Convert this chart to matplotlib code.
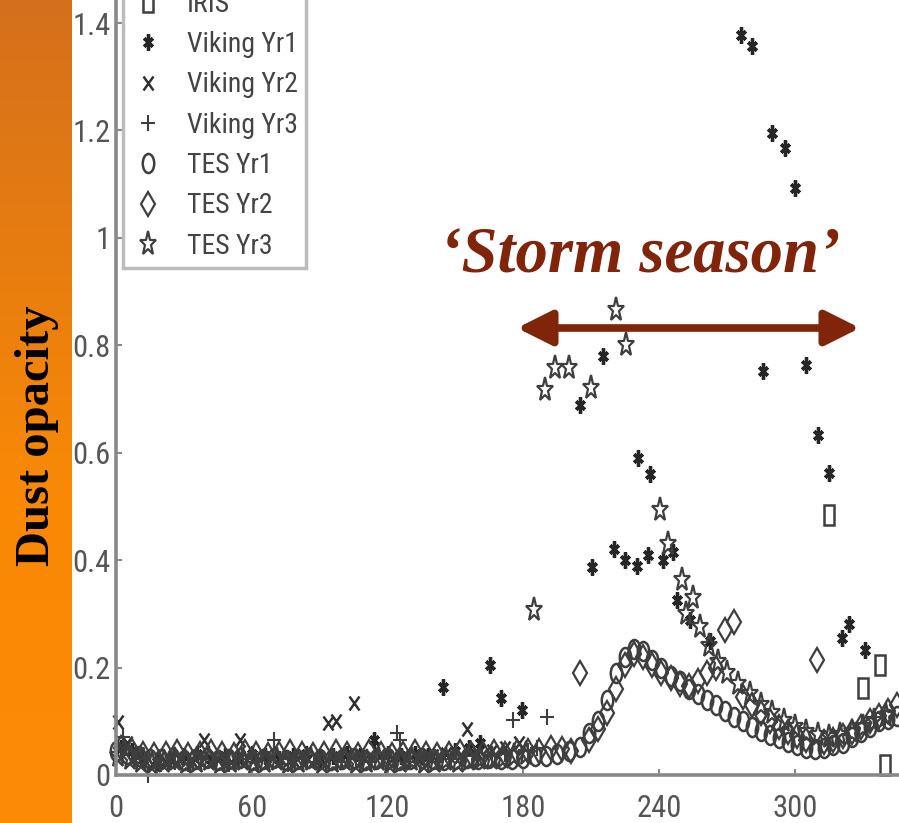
import numpy as np
import matplotlib
matplotlib.use("Agg")
import matplotlib.pyplot as plt
from matplotlib import font_manager
from matplotlib.font_manager import FontProperties
from matplotlib.markers import MarkerStyle
from matplotlib.transforms import Affine2D
from matplotlib.patches import FancyArrowPatch
from matplotlib.colors import LinearSegmentedColormap

# seasonal dust opacity vs. solar longitude (Ls)
iris_ls = [315, 330, 337.5, 339.7]
iris_tau = [0.484, 0.162, 0.205, 0.019]

vk1_ls = [2, 7, 12, 18, 24, 30, 36, 42, 48, 54, 60, 66, 72, 78, 84, 90, 96, 102, 108, 114,
          120, 126, 132, 138, 144.7, 150, 156, 161,
          165.4, 170, 179.5, 205, 210.5, 215, 220, 225, 230, 230.5, 235, 236, 241.5, 246,
          248, 253.6, 262.5, 276, 281, 285.8, 289.8, 295.5, 300, 304.8, 310, 315, 320.7, 324, 331]
vk1_tau = [0.05, 0.045, 0.03, 0.025, 0.03, 0.035, 0.04, 0.03, 0.035, 0.03, 0.04, 0.035, 0.03, 0.035, 0.04, 0.03, 0.035, 0.04, 0.035, 0.065,
           0.04, 0.035, 0.04, 0.035, 0.164, 0.045, 0.05, 0.06,
           0.205, 0.143, 0.121, 0.688, 0.387, 0.78, 0.42, 0.40, 0.39, 0.59, 0.41, 0.56, 0.40, 0.415,
           0.325, 0.288, 0.25, 1.377, 1.358, 0.753, 1.196, 1.167, 1.092, 0.763, 0.633, 0.562, 0.255, 0.282, 0.233]

vk2_ls = [1, 5, 10, 16, 22, 28, 34, 38.8, 45, 51, 55, 61, 67, 73, 79, 85, 89, 93.5, 97, 105,
          110, 116, 122, 128, 134, 140, 146, 152, 155.3, 160, 166, 172, 178]
vk2_tau = [0.099, 0.06, 0.04, 0.02, 0.025, 0.03, 0.025, 0.065, 0.03, 0.025, 0.065, 0.03, 0.025, 0.03, 0.025, 0.03, 0.03, 0.097, 0.1, 0.134,
           0.03, 0.035, 0.03, 0.035, 0.03, 0.035, 0.04, 0.035, 0.085, 0.04, 0.045, 0.05, 0.06]

vk3_ls = [3, 9, 14, 20, 26, 32, 38, 44, 50, 56, 62, 69.7, 76, 82, 88, 94, 100, 106, 112, 118,
          124, 125.7, 130, 136, 142, 148, 154, 160, 166, 172, 175.6, 182, 186, 190.5]
vk3_tau = [0.07, 0.03, 0.0, 0.02, 0.025, 0.02, 0.03, 0.025, 0.02, 0.03, 0.025, 0.065, 0.02, 0.03, 0.025, 0.03, 0.025, 0.03, 0.025, 0.03,
           0.078, 0.065, 0.025, 0.03, 0.025, 0.03, 0.035, 0.03, 0.035, 0.04, 0.102, 0.045, 0.05, 0.108]

tes1_ls = [0, 5, 10, 15, 20, 25, 30, 35, 40, 45, 50, 55, 60, 65, 70, 75, 80, 85, 90, 95,
           100, 105, 110, 115, 120, 125, 130, 135, 140, 145, 150, 155, 160, 165, 170, 175, 180, 185, 190, 195, 200,
           205, 209, 213, 217, 221, 225, 229, 233, 237, 241, 245, 249, 253, 257, 261, 265, 269, 273, 277,
           281, 285, 289, 293, 297, 301, 305, 309, 313, 317, 321, 325, 329, 333, 337, 341, 345]
tes1_tau = [0.045, 0.04, 0.035, 0.03, 0.03, 0.032, 0.028, 0.03, 0.032, 0.028, 0.03, 0.032, 0.028, 0.03, 0.032, 0.028, 0.03, 0.032, 0.03, 0.028,
            0.03, 0.032, 0.028, 0.03, 0.032, 0.028, 0.03, 0.032, 0.03, 0.028, 0.03, 0.032, 0.03, 0.032, 0.03, 0.03, 0.032, 0.035, 0.035, 0.04, 0.045,
            0.052, 0.078, 0.1, 0.14, 0.19, 0.22, 0.235, 0.23, 0.215, 0.2, 0.185, 0.175, 0.16, 0.15, 0.14, 0.13, 0.12, 0.108, 0.1,
            0.09, 0.082, 0.075, 0.068, 0.062, 0.055, 0.05, 0.048, 0.05, 0.055, 0.06, 0.07, 0.08, 0.09, 0.1, 0.105, 0.11]

tes2_ls = [2, 7, 12, 17, 22, 27, 32, 37, 42, 47, 52, 57, 62, 67, 72, 77, 82, 87, 92, 97,
           102, 107, 112, 117, 122, 127, 132, 137, 142, 147, 152, 157, 162, 167, 172, 177, 182, 187, 192, 197,
           201, 205, 209, 213, 217, 221, 225, 229, 233, 237, 241, 245, 249, 253, 257, 261, 265, 269, 273, 277,
           281, 285, 289, 293, 297, 301, 305, 309.7, 313, 317, 321, 325, 329, 333, 337, 341, 345]
tes2_tau = [0.05, 0.045, 0.04, 0.038, 0.04, 0.042, 0.038, 0.04, 0.042, 0.04, 0.038, 0.042, 0.04, 0.038, 0.04, 0.042, 0.04, 0.038, 0.04, 0.042,
            0.04, 0.038, 0.042, 0.04, 0.038, 0.04, 0.042, 0.04, 0.038, 0.04, 0.042, 0.04, 0.04, 0.042, 0.04, 0.042, 0.045, 0.045, 0.05, 0.048,
            0.045, 0.19, 0.065, 0.085, 0.115, 0.16, 0.205, 0.225, 0.22, 0.205, 0.19, 0.18, 0.17, 0.165, 0.175, 0.19, 0.2, 0.27, 0.285, 0.145,
            0.13, 0.115, 0.1, 0.09, 0.08, 0.072, 0.066, 0.214, 0.062, 0.065, 0.072, 0.08, 0.09, 0.1, 0.11, 0.12, 0.13]

tes3_ls = [1, 6, 11, 16, 21, 26, 31, 36, 41, 46, 51, 56, 61, 66, 71, 76, 81, 86, 91, 96,
           101, 106, 111, 116, 121, 126, 131, 136, 141, 146, 151, 156, 161, 166, 171, 176, 181,
           184.5, 189.7, 194, 200, 210, 221, 225.4, 240.4, 244, 250, 252, 255, 258, 262, 266, 270, 275,
           280, 285, 290, 295, 300, 305, 310, 315, 320, 325, 330, 335, 340]
tes3_tau = [0.035, 0.03, 0.025, 0.02, 0.025, 0.028, 0.022, 0.025, 0.028, 0.022, 0.025, 0.028, 0.022, 0.025, 0.028, 0.022, 0.025, 0.028, 0.022, 0.025,
            0.028, 0.022, 0.025, 0.028, 0.022, 0.025, 0.028, 0.022, 0.025, 0.028, 0.025, 0.028, 0.03, 0.03, 0.032, 0.035, 0.04,
            0.307, 0.716, 0.757, 0.757, 0.72, 0.865, 0.80, 0.493, 0.43, 0.363, 0.30, 0.33, 0.275, 0.24, 0.21, 0.19, 0.17,
            0.15, 0.13, 0.115, 0.1, 0.09, 0.08, 0.075, 0.07, 0.075, 0.08, 0.09, 0.1, 0.11]

series_labels = ["IRIS", "Viking Yr1", "Viking Yr2", "Viking Yr3", "TES Yr1", "TES Yr2", "TES Yr3"]
y_ticks = [0, 0.2, 0.4, 0.6, 0.8, 1, 1.2, 1.4]
y_ticklabels = ["0", "0.2", "0.4", "0.6", "0.8", "1", "1.2", "1.4"]
x_ticks = [0, 60, 120, 180, 240, 300]

W, H = 899, 823
serif = "Liberation Serif"
dark_red = "#80240A"


def narrow_font(size):
    # use a condensed sans face for axis numbers and legend when one is installed
    entries = font_manager.fontManager.ttflist
    for fam in ["Liberation Sans Narrow", "Roboto Condensed", "Open Sans Condensed"]:
        if any(f.name == fam for f in entries):
            return FontProperties(family=fam, size=size)
    if any(f.name == "DejaVu Sans" and f.stretch == "condensed" for f in entries):
        return FontProperties(family="DejaVu Sans", stretch="condensed", size=size)
    return FontProperties(family="DejaVu Sans", size=size * 0.85)


fig = plt.figure(figsize=(W / 100, H / 100), dpi=100)

# orange side band with vertical gradient
band = fig.add_axes([0, 0, 72 / W, 1])
cmap = LinearSegmentedColormap.from_list(
    "band", [(0, "#D4701C"), (0.6, "#F98906"), (1, "#FC8B04")])
band.imshow(np.linspace(0, 1, 256).reshape(-1, 1), cmap=cmap, aspect="auto")
band.axis("off")
fig.text(37 / W, 1 - 436 / H, "Dust opacity", rotation=90, ha="center", va="center",
         fontfamily=serif, fontweight="bold", fontsize=35, color="black")

ax = fig.add_axes([116 / W, 48 / H, (W - 116) / W, 775 / H])
ax.set_xlim(0, (W - 116) / 2.2633)
ax.set_ylim(0, 775 / 537.1)


def mk(base, sx, sy):
    return MarkerStyle(base, fillstyle="none", transform=Affine2D().scale(sx, sy))


gray = "#3e3e3e"
styles = [
    (iris_ls, iris_tau, dict(marker=mk("s", 0.75, 1.5), ms=10, mec=gray, mfc="none", mew=1.8)),
    (vk1_ls, vk1_tau, dict(marker=mk((6, 2, 0), 0.8, 1.3), ms=9, mec="#262626", mew=2.4)),
    (vk2_ls, vk2_tau, dict(marker=mk("x", 0.9, 1.2), ms=8, mec="#303030", mew=1.8)),
    (vk3_ls, vk3_tau, dict(marker=mk("+", 1.0, 1.2), ms=10, mec=gray, mew=1.5)),
    (tes1_ls, tes1_tau, dict(marker=mk("o", 0.75, 1.25), ms=11, mec=gray, mfc="none", mew=1.8)),
    (tes2_ls, tes2_tau, dict(marker=mk("D", 0.7, 1.2), ms=10, mec=gray, mfc="none", mew=1.6)),
    (tes3_ls, tes3_tau, dict(marker=mk("*", 0.9, 1.3), ms=14, mec=gray, mfc="none", mew=1.6)),
]
for (xs, ys, kw), label in zip(styles, series_labels):
    ax.plot(xs, ys, linestyle="none", label=label, clip_on=False, **kw)

for side in ["top", "right"]:
    ax.spines[side].set_visible(False)
for side in ["left", "bottom"]:
    ax.spines[side].set_color("#888888")
    ax.spines[side].set_linewidth(2.6)

tick_fp = narrow_font(22)
ax.set_yticks(y_ticks)
ax.set_yticklabels(y_ticklabels, fontproperties=tick_fp)
ax.set_xticks(x_ticks)
ax.set_xticklabels([str(v) for v in x_ticks], fontproperties=tick_fp)
ax.tick_params(direction="in", length=4, width=1.5, color="#888888", labelcolor="#555555")
ax.tick_params(axis="x", pad=14)
ax.tick_params(axis="y", pad=4)

leg = ax.legend(loc="lower left", bbox_to_anchor=(123 / W, 1 - 268 / H),
                bbox_transform=fig.transFigure, borderaxespad=0, frameon=True,
                fancybox=False, framealpha=1, edgecolor="#bbbbbb",
                prop=narrow_font(20), labelspacing=0.48,
                handletextpad=0.8, handlelength=1.2, borderpad=0.3)
leg.get_frame().set_linewidth(2.5)
for t in leg.get_texts():
    t.set_color("#444444")

fig.text(440 / W, 1 - 272 / H, "\u2018Storm season\u2019", fontfamily=serif,
         fontstyle="italic", fontweight="bold", fontsize=46.5, color=dark_red,
         va="baseline", ha="left")

arrow = FancyArrowPatch(posA=(517 / W, 1 - 328 / H), posB=(860 / W, 1 - 328 / H),
                        transform=fig.transFigure,
                        arrowstyle="<|-|>,head_length=21,head_width=10.5",
                        mutation_scale=1, lw=5.5, color=dark_red,
                        shrinkA=0, shrinkB=0)
fig.add_artist(arrow)

fig.savefig("out.png", dpi=100)
